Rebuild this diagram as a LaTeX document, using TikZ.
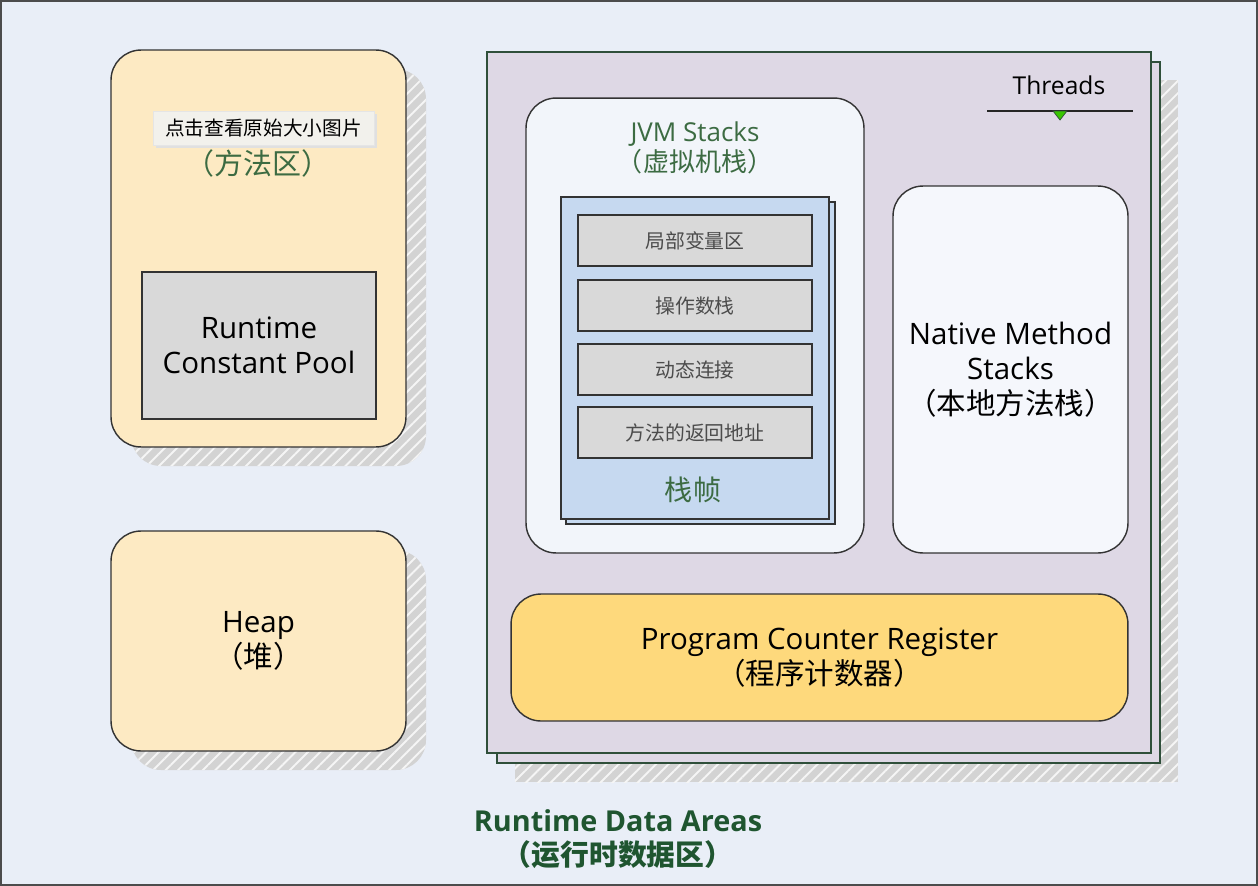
\documentclass[tikz,border=0pt]{standalone}
\usepackage{fontspec}
\setmainfont{Open Sans}
\newfontfamily\cjk{Noto Sans CJK SC}
\usetikzlibrary{positioning, calc, patterns.meta}
\definecolor{canvas}{HTML}{E9EEF7}
\definecolor{areayellow}{HTML}{FDEAC3}
\definecolor{poolgray}{HTML}{D9D9D9}
\definecolor{lavender}{HTML}{DED8E5}
\definecolor{framegreen}{HTML}{2F4F3A}
\definecolor{frameblue}{HTML}{C6D9F0}
\definecolor{nativewhite}{HTML}{F5F7FC}
\definecolor{pcgold}{HTML}{FED97C}
\definecolor{labelgreen}{HTML}{3C6B42}
\definecolor{titlegreen}{HTML}{1F5530}
\definecolor{shadowgray}{HTML}{D3D3D3}
\definecolor{tipgray}{HTML}{F2F1EC}
\tikzset{
    area/.style={draw=black!80, thick, rounded corners=0.6cm, fill=areayellow, inner sep=0pt},
    pool/.style={draw=black!80, thick, fill=poolgray, inner sep=0pt},
    thread/.style={draw=framegreen, thick, fill=lavender},
    hatch/.style={preaction={fill=shadowgray}, pattern={Lines[angle=45, distance=5pt, line width=1.1pt]}, pattern color=white!92!gray},
    stackbox/.style={draw=black!80, thick, rounded corners=0.6cm, inner sep=0pt},
    slot/.style={draw=black!80, thick, fill=poolgray, minimum width=4.68cm, minimum height=1.02cm, inner sep=0pt, text=black!70, font=\cjk\fontsize{11.3}{13}\selectfont},
    big/.style={align=center, font=\fontsize{16.8}{20}\selectfont}
}
\begin{document}
\begin{tikzpicture}[x=0.02cm, y=-0.02cm]
    % Canvas
    \useasboundingbox (0,0) rectangle (1258,886);
    \fill[canvas] (0,0) rectangle (1258,886);
    \draw[line width=1pt, black!70] (1,1) rectangle (1257,885);
    % Method area
    \fill[hatch, rounded corners=0.6cm] (131,69) rectangle (426,466);
    \node[area, minimum width=5.9cm, minimum height=7.94cm] (method) at (258.5,248.5) {};
    \node[text=labelgreen, font=\cjk\fontsize{16.5}{19}\selectfont] (methodlabel) at (258,163) {（方法区）};
    \fill[black!12] (156,114) rectangle (377,148);
    \node[fill=tipgray, draw=black!10, minimum width=4.42cm, minimum height=0.68cm, inner sep=0pt, font=\cjk\fontsize{11.2}{13}\selectfont] (tip) at (263.5,128) {点击查看原始大小图片};
    \node[pool, minimum width=4.68cm, minimum height=2.94cm, big] (constpool) at (259,345.5) {Runtime\\Constant Pool};
    % Heap
    \fill[hatch, rounded corners=0.6cm] (131,550) rectangle (426,770);
    \node[area, minimum width=5.9cm, minimum height=4.4cm, big] (heap) at (258.5,641) {Heap\\{\cjk（堆）}};
    % Threads
    \fill[hatch] (515,80) rectangle (1178,782);
    \draw[thread] (497,62) rectangle (1160,763);
    \node[thread, minimum width=13.28cm, minimum height=14.02cm, inner sep=0pt] (threads) at (819,402.5) {};
    \node[font=\fontsize{14}{16}\selectfont] (threadlabel) at (1059,85) {Threads};
    \coordinate (tl) at (987,111);
    \coordinate (tr) at (1133,111);
    \draw[thick, black!85] (tl) -- (tr);
    \fill[green!55!olive, draw=framegreen, thin] (1053,111) -- (1067,111) -- (1060,120) -- cycle;
    % JVM stacks
    \node[stackbox, fill=canvas!60!white, minimum width=6.76cm, minimum height=9.1cm] (jvm) at (695,325.5) {};
    \node[text=labelgreen, align=center, font=\fontsize{14.8}{17}\selectfont] (jvmlabel) at (695,148) {JVM Stacks\\{\cjk（虚拟机栈）}};
    \draw[thick, black!80, fill=frameblue] (566,202) rectangle (835,524);
    \node[draw=black!80, thick, fill=frameblue, minimum width=5.36cm, minimum height=6.44cm, inner sep=0pt] (frame) at (695,358) {};
    \node[slot] (locals) at (695,240.5) {局部变量区};
    \node[slot] (operands) at (695,305.5) {操作数栈};
    \node[slot] (linking) at (695,369.5) {动态连接};
    \node[slot] (retaddr) at (695,432.5) {方法的返回地址};
    \node[text=labelgreen, font=\cjk\fontsize{16}{19}\selectfont] (framelabel) at (693,490) {栈帧};
    % Native method stacks
    \node[stackbox, fill=nativewhite, minimum width=4.7cm, minimum height=7.34cm, big] (native) at (1010.5,369.5) {Native Method\\Stacks\\{\cjk（本地方法栈）}};
    % Program counter
    \node[stackbox, fill=pcgold, minimum width=12.34cm, minimum height=2.54cm, big] (pc) at (819.5,657.5) {Program Counter Register\\{\cjk（程序计数器）}};
    % Title
    \node[text=titlegreen, align=center, font=\bfseries\fontsize{16.4}{19.5}\selectfont] (title) at (618,839) {Runtime Data Areas\\{\cjk\bfseries（运行时数据区）}};
\end{tikzpicture}
\end{document}
